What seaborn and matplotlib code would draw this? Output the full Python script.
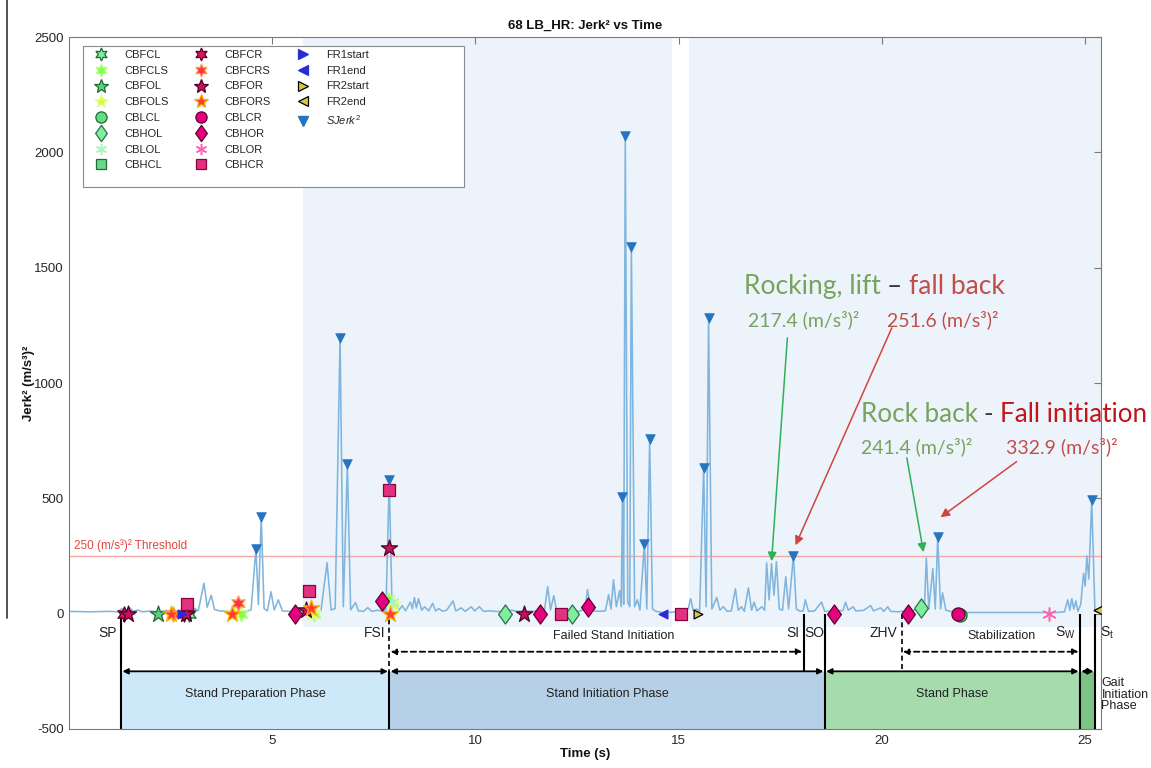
import matplotlib
matplotlib.use("Agg")
import matplotlib.pyplot as plt
from matplotlib.lines import Line2D
from matplotlib.patches import Rectangle
from matplotlib.path import Path
import seaborn as sns

# ---------------------------------------------------------------- data
# Jerk^2 signal, (m/s^3)^2, sampled at the listed times (s)
TIME = [0.00, 0.50, 1.00, 1.20, 1.30, 1.36, 1.50, 1.58, 1.70, 1.80, 2.00, 2.20, 2.40, 2.60,
        2.80, 3.00, 3.10, 3.18, 3.32, 3.40, 3.50, 3.58, 3.70, 3.90, 4.00, 4.10, 4.20, 4.35,
        4.48, 4.60, 4.66, 4.73, 4.80, 4.88, 4.97, 5.05, 5.15, 5.25, 5.40, 5.55, 5.70, 5.80,
        5.95, 6.05, 6.20, 6.35, 6.45, 6.55, 6.67, 6.75, 6.85, 6.93, 7.05, 7.12, 7.25, 7.35,
        7.45, 7.60, 7.72, 7.80, 7.88, 7.95, 8.05, 8.12, 8.20, 8.28, 8.40, 8.45, 8.50, 8.55,
        8.60, 8.68, 8.75, 8.85, 8.95, 9.02, 9.10, 9.20, 9.30, 9.45, 9.52, 9.65, 9.75, 9.90,
        9.98, 10.10, 10.20, 10.35, 10.50, 10.70, 10.90, 11.00, 11.20, 11.40, 11.60, 11.70,
        11.78, 11.85, 11.93, 12.00, 12.20, 12.40, 12.55, 12.70, 12.76, 12.82, 12.90, 13.05,
        13.20, 13.28, 13.34, 13.40, 13.47, 13.55, 13.59, 13.62, 13.65, 13.69, 13.75, 13.80,
        13.84, 13.92, 13.99, 14.05, 14.16, 14.22, 14.29, 14.36, 14.45, 14.60, 14.80, 15.00,
        15.15, 15.24, 15.30, 15.36, 15.45, 15.52, 15.62, 15.68, 15.74, 15.82, 15.94, 16.02,
        16.10, 16.20, 16.30, 16.40, 16.47, 16.55, 16.62, 16.72, 16.80, 16.86, 16.93, 17.05,
        17.12, 17.17, 17.23, 17.29, 17.35, 17.41, 17.48, 17.56, 17.64, 17.71, 17.83, 17.90,
        18.00, 18.07, 18.12, 18.20, 18.35, 18.52, 18.60, 18.80, 18.95, 19.05, 19.11, 19.18,
        19.30, 19.36, 19.55, 19.73, 19.80, 19.98, 20.05, 20.15, 20.22, 20.40, 20.60, 20.80,
        20.95, 21.05, 21.10, 21.16, 21.26, 21.32, 21.38, 21.45, 21.50, 21.58, 21.80, 22.50,
        23.50, 24.30, 24.50, 24.58, 24.63, 24.68, 24.73, 24.78, 24.83, 24.90, 24.97, 25.01,
        25.05, 25.10, 25.17, 25.25, 25.40]
JERK2 = [10, 8, 10, 8, 22, 10, 25, 10, 16, 8, 11, 8, 13, 8,
         16, 10, 22, 12, 132, 28, 80, 18, 12, 10, 16, 38, 12, 10,
         16, 282, 40, 420, 22, 12, 95, 16, 60, 12, 10, 8, 14, 10,
         20, 10, 12, 221, 16, 22, 1196, 30, 650, 16, 48, 12, 10, 26,
         10, 15, 10, 16, 580, 20, 40, 14, 35, 12, 50, 22, 70, 25,
         65, 15, 30, 12, 45, 12, 22, 10, 16, 55, 12, 25, 10, 30,
         12, 30, 10, 12, 10, 8, 15, 10, 12, 10, 12, 14,
         117, 16, 78, 12, 10, 15, 10, 20, 104, 40, 12, 10,
         12, 82, 20, 147, 30, 100, 30, 507, 40, 2071, 50, 30,
         1590, 30, 60, 15, 303, 20, 758, 20, 10, 5, 6, 8,
         10, 22, 65, 15, 20, 10, 633, 30, 1282, 20, 70, 15,
         30, 10, 12, 108, 15, 30, 10, 112, 15, 50, 12, 30,
         15, 220, 60, 217.4, 80, 225, 20, 15, 160, 20, 251.6, 20,
         10, 12, 60, 10, 12, 50, 10, 10, 12, 14, 50, 15,
         30, 12, 14, 35, 12, 25, 10, 30, 10, 8, 12, 15,
         25, 15, 241.4, 20, 195, 20, 332.9, 20, 90, 15, 5, 5,
         5, 5, 8, 60, 15, 65, 20, 55, 10, 40, 175, 120,
         250, 150, 494, 10, 5]

# detected Jerk^2 peaks
PEAK_T = [4.60, 4.73, 6.67, 6.85, 7.88, 13.62, 13.69, 13.84, 14.16, 14.29, 15.62, 15.74,
          17.83, 21.38, 25.17]
PEAK_V = [282, 420, 1196, 650, 580, 507, 2071, 1590, 303, 758, 633, 1282, 251.6, 332.9, 494]

THRESHOLD = 250

# behaviour events (time s, Jerk^2 value)
CBFCL_T, CBFCL_V = [2.95], [0]
CBFCLS_T, CBFCLS_V = [4.22, 6.02, 7.85], [0, 0, 62]
CBFOL_T, CBFOL_V = [2.20], [0]
CBFOLS_T, CBFOLS_V = [4.05, 5.98, 7.98], [8, 5, 40]
CBLCL_T, CBLCL_V = [21.92], [-5]
CBHOL_T, CBHOL_V = [10.74, 12.39, 20.96], [0, 0, 25]
CBLOL_T, CBLOL_V = [7.95], [50]
CBHCL_T, CBHCL_V = [], []
CBFCR_T, CBFCR_V = [1.35, 2.82], [0, 0]
CBFCRS_T, CBFCRS_V = [2.55, 4.15], [0, 45]
CBFOR_T, CBFOR_V = [1.45, 2.88, 5.82, 7.88, 11.20], [0, 0, 15, 286, 0]
CBFORS_T, CBFORS_V = [2.50, 4.02, 5.95, 7.90], [0, 0, 25, 0]
CBLCR_T, CBLCR_V = [21.87], [0]
CBHOR_T, CBHOR_V = [5.57, 7.70, 11.58, 12.78, 18.82, 20.64], [0, 56, 0, 28, 0, 0]
CBLOR_T, CBLOR_V = [24.11], [0]
CBHCR_T, CBHCR_V = [2.90, 5.90, 7.88, 12.10, 15.05], [43, 100, 537, 0, 0]
FR1START_T, FR1START_V = [2.78], [0]
FR1END_T, FR1END_V = [14.63], [0]
FR2START_T, FR2START_V = [15.49], [0]
FR2END_T, FR2END_V = [25.33], [15]

# task segmentation (s)
EVENT_NAMES = ["SP", "FSI", "SI", "SO", "ZHV", "SW", "St"]
EVENT_TIMES = [1.28, 7.88, 18.08, 18.60, 20.49, 24.88, 25.25]
PHASE_NAMES = ["Stand Preparation Phase", "Stand Initiation Phase", "Stand Phase",
               "Gait\nInitiation\nPhase"]
SUBPHASE_NAMES = ["Failed Stand Initiation", "Stabilization"]

# epochs with video coverage (s)
VIDEO_SPANS = [(5.76, 14.83), (15.27, 25.40)]

# annotated peaks
ANNOT_LIFT, ANNOT_FALLBACK = 217.4, 251.6
ANNOT_ROCKBACK, ANNOT_FALLINIT = 241.4, 332.9

# ---------------------------------------------------------------- style
sns.set_theme(style="white")
plt.rcParams["font.family"] = ["Liberation Sans", "DejaVu Sans"]
plt.rcParams["mathtext.fontset"] = "custom"
plt.rcParams["mathtext.rm"] = "Liberation Sans"
plt.rcParams["mathtext.it"] = "Liberation Sans:italic"
plt.rcParams["mathtext.bf"] = "Liberation Sans:bold"
plt.rcParams["axes.unicode_minus"] = False

HEX = (6, 1, 0)
AST = (6, 2, 0)
DIAM = Path([(0, 1), (0.72, 0), (0, -1), (-0.72, 0), (0, 1)],
            [Path.MOVETO, Path.LINETO, Path.LINETO, Path.LINETO, Path.CLOSEPOLY])

GREEN_EDGE = "#1f6b35"
PINK_EDGE = "#5e0030"
SERIES = [
    ("CBFCL", CBFCL_T, CBFCL_V, dict(marker=HEX, fc="#86eb9e", ec=GREEN_EDGE, s=120)),
    ("CBFCLS", CBFCLS_T, CBFCLS_V, dict(marker=HEX, fc="#86ff4c", ec="#b9ff8c", s=120)),
    ("CBFOL", CBFOL_T, CBFOL_V, dict(marker="*", fc="#5fcf7e", ec=GREEN_EDGE, s=150)),
    ("CBFOLS", CBFOLS_T, CBFOLS_V, dict(marker="*", fc="#d2ff3a", ec="#e8ff9c", s=150)),
    ("CBLCL", CBLCL_T, CBLCL_V, dict(marker="o", fc="#62dd86", ec=GREEN_EDGE, s=90)),
    ("CBHOL", CBHOL_T, CBHOL_V, dict(marker=DIAM, fc="#7eeea0", ec="#2f6f45", s=190)),
    ("CBLOL", CBLOL_T, CBLOL_V, dict(marker=AST, fc="#aef2be", ec=None, s=90)),
    ("CBHCL", CBHCL_T, CBHCL_V, dict(marker="s", fc="#66d98a", ec=GREEN_EDGE, s=75)),
    ("CBFCR", CBFCR_T, CBFCR_V, dict(marker=HEX, fc="#e0125e", ec=PINK_EDGE, s=120)),
    ("CBFCRS", CBFCRS_T, CBFCRS_V, dict(marker=HEX, fc="#ff2f55", ec="#ffa040", s=120)),
    ("CBFOR", CBFOR_T, CBFOR_V, dict(marker="*", fc="#c9115c", ec="#4d0020", s=150)),
    ("CBFORS", CBFORS_T, CBFORS_V, dict(marker="*", fc="#ff3a3a", ec="#ffb000", s=150)),
    ("CBLCR", CBLCR_T, CBLCR_V, dict(marker="o", fc="#e6007e", ec=PINK_EDGE, s=90)),
    ("CBHOR", CBHOR_T, CBHOR_V, dict(marker=DIAM, fc="#e8007e", ec=PINK_EDGE, s=190)),
    ("CBLOR", CBLOR_T, CBLOR_V, dict(marker=AST, fc="#ff66b0", ec=None, s=90)),
    ("CBHCR", CBHCR_T, CBHCR_V, dict(marker="s", fc="#e3317f", ec="#8a0040", s=75)),
    ("FR1start", FR1START_T, FR1START_V, dict(marker=">", fc="#2b2bd6", ec="#2b2bd6", s=40)),
    ("FR1end", FR1END_T, FR1END_V, dict(marker="<", fc="#2b2bd6", ec="#2b2bd6", s=40)),
    ("FR2start", FR2START_T, FR2START_V, dict(marker=">", fc="#d8c640", ec="#000000", s=40)),
    ("FR2end", FR2END_T, FR2END_V, dict(marker="<", fc="#d8c640", ec="#000000", s=40)),
]
PEAK_COLOR = "#2474bf"
LINE_COLOR = "#80b5de"

fig = plt.figure(figsize=(11.51, 7.68), dpi=100)
ax = fig.add_axes([0.0600, 0.0508, 0.8966, 0.9010])

# shaded epochs
for a, b in VIDEO_SPANS:
    ax.fill_between([a, b], -60, 2500, color="#edf3fa", lw=0, zorder=0)

# threshold
ax.axhline(THRESHOLD, color="#f4a7a7", lw=1.0, zorder=1)
ax.text(0.12, THRESHOLD + 18, "250 (m/s³)² Threshold", color="#e2453e", fontsize=8.5,
        ha="left", va="bottom")

# signal
sns.lineplot(x=TIME, y=JERK2, ax=ax, color=LINE_COLOR, lw=1.15, zorder=2,
             estimator=None, sort=False)

# peaks
sns.scatterplot(x=PEAK_T, y=PEAK_V, ax=ax, marker="v", s=48, color=PEAK_COLOR,
                edgecolor=PEAK_COLOR, linewidth=0.5, zorder=5, legend=False)

# events
for name, tt, vv, st in SERIES:
    if not tt:
        continue
    kw = dict(marker=st["marker"], s=st["s"], color=st["fc"], zorder=4, legend=False)
    if st["ec"] is not None:
        kw.update(edgecolor=st["ec"], linewidth=0.9)
    else:
        kw.update(linewidth=1.1)
    sns.scatterplot(x=tt, y=vv, ax=ax, **kw)

# ---------------------------------------------------------------- phases
ev = dict(zip(EVENT_NAMES, EVENT_TIMES))
TOP, BOT, ROW, DROW = -252, -500, -250, -165
phase_spans = [(ev["SP"], ev["FSI"], "#cde9f9"), (ev["FSI"], ev["SO"], "#b6d0e7"),
               (ev["SO"], ev["SW"], "#a6dcad"), (ev["SW"], ev["St"], "#7cc486")]
for (a, b, c), name in zip(phase_spans, PHASE_NAMES):
    ax.fill_between([a, b], BOT, TOP, color=c, lw=0, zorder=1)
    if "\n" not in name:
        ax.text((a + b) / 2, -347, name, ha="center", va="center", fontsize=9, color="#222222")
ax.text(ev["St"] + 0.16, -351, PHASE_NAMES[3], ha="left", va="center", fontsize=9,
        color="#222222", linespacing=0.95, clip_on=False)

LK = dict(color="black", lw=1.5, zorder=3, solid_capstyle="butt")
for key in ["SP", "SO", "SW", "St"]:
    ax.plot([ev[key], ev[key]], [0, BOT], **LK)
ax.plot([ev["FSI"], ev["FSI"]], [10, ROW], color="black", lw=1.2, ls=(0, (3, 2)), zorder=3)
ax.plot([ev["FSI"], ev["FSI"]], [ROW, BOT], **LK)
ax.plot([ev["SI"], ev["SI"]], [0, ROW], **LK)
ax.plot([ev["ZHV"], ev["ZHV"]], [0, ROW], color="black", lw=1.2, ls=(0, (3, 2)), zorder=3)


def double_arrow(a, b, y, dashed=False):
    ax.annotate("", xy=(b, y), xytext=(a, y),
                arrowprops=dict(arrowstyle="<|-|>", color="black", lw=1.3,
                                ls=(0, (3, 2)) if dashed else "-",
                                mutation_scale=8, shrinkA=1, shrinkB=1),
                zorder=3)


double_arrow(ev["SP"], ev["FSI"], ROW)
double_arrow(ev["FSI"], ev["SO"], ROW)
double_arrow(ev["SO"], ev["SW"], ROW)
double_arrow(ev["SW"], ev["St"], ROW)
double_arrow(ev["FSI"], ev["SI"], DROW, dashed=True)
double_arrow(ev["ZHV"], ev["SW"], DROW, dashed=True)

EK = dict(fontsize=10, va="center", color="#222222", clip_on=False)
ax.text(ev["SP"] - 0.1, -82, "SP", ha="right", **EK)
ax.text(ev["FSI"] - 0.1, -82, "FSI", ha="right", **EK)
ax.text(ev["SI"] - 0.1, -82, "SI", ha="right", **EK)
ax.text((ev["SI"] + ev["SO"]) / 2, -82, "SO", ha="center", **EK)
ax.text(ev["ZHV"] - 0.1, -82, "ZHV", ha="right", **EK)
ax.text(ev["SW"] - 0.1, -82, r"S$_\mathrm{W}$", ha="right", **EK)
ax.text(ev["St"] + 0.12, -82, r"S$_\mathrm{t}$", ha="left", **EK)
ax.text(13.4, -95, SUBPHASE_NAMES[0], ha="center", va="center", fontsize=9, color="#222222")
ax.text(22.96, -95, SUBPHASE_NAMES[1], ha="center", va="center", fontsize=9, color="#222222")

# ---------------------------------------------------------------- annotations
GREEN_T, RED_T, DARK_T = "#77a35f", "#c24e4a", "#3a3a3a"
ANNOT_FONT = ["Lato", "DejaVu Sans"]


def colored_line(x, y, pieces, size):
    prev = None
    for txt, col in pieces:
        if prev is None:
            prev = ax.text(x, y, txt, color=col, fontsize=size, family=ANNOT_FONT,
                           ha="left", va="center", clip_on=False)
        else:
            prev = ax.annotate(txt, xy=(1, 0.5), xycoords=prev, color=col, fontsize=size,
                               family=ANNOT_FONT, ha="left", va="center",
                               annotation_clip=False)


colored_line(16.60, 1417, [("Rocking, lift ", GREEN_T), ("– ", DARK_T), ("fall back", RED_T)], 19)
colored_line(16.72, 1274, [(f"{ANNOT_LIFT} (m/s³)²", GREEN_T)], 14)
colored_line(20.12, 1274, [(f"{ANNOT_FALLBACK} (m/s³)²", RED_T)], 14)
colored_line(19.48, 862, [("Rock back ", GREEN_T), ("- ", DARK_T), ("Fall initiation", "#c0151a")], 18.7)
colored_line(19.48, 724, [(f"{ANNOT_ROCKBACK} (m/s³)²", GREEN_T)], 14)
colored_line(23.05, 724, [(f"{ANNOT_FALLINIT} (m/s³)²", RED_T)], 14)

AG, AR = "#2fb05a", "#d0453f"
for (x0, y0), (x1, y1), c in [((17.68, 1196), (17.29, ANNOT_LIFT + 10), AG),
                              ((20.25, 1239), (17.88, ANNOT_FALLBACK + 45), AR),
                              ((20.62, 676), (21.03, ANNOT_ROCKBACK + 25), AG),
                              ((23.32, 659), (21.45, ANNOT_FALLINIT + 85), AR)]:
    ax.annotate("", xy=(x1, y1), xytext=(x0, y0),
                arrowprops=dict(arrowstyle="-|>", color=c, lw=1.1, mutation_scale=13,
                                shrinkA=0, shrinkB=0), zorder=6)

# ---------------------------------------------------------------- axes
ax.set_xlim(0, 25.4)
ax.set_ylim(-500, 2500)
ax.set_xticks([5, 10, 15, 20, 25])
ax.set_yticks(range(-500, 2501, 500))
ax.tick_params(direction="in", top=True, right=True, length=5, width=0.8, color="#7a7a7a",
               labelsize=9.5, labelcolor="#262626", pad=4)
for sp in ax.spines.values():
    sp.set_visible(True)
    sp.set_color("#7a7a7a")
    sp.set_linewidth(0.8)
ax.set_title("68 LB_HR: Jerk² vs Time", fontsize=9.5, fontweight="bold", pad=6, color="#111111")
ax.set_xlabel("Time (s)", fontsize=9.5, fontweight="bold", labelpad=1, color="#111111")
ax.set_ylabel("Jerk² (m/s³)²", fontsize=9.5, fontweight="bold", labelpad=-1, color="#111111")

# legend
handles, labels = [], []
for name, _, _, st in SERIES[:16]:
    mk = st["marker"]
    ms = st["s"] ** 0.5 * 0.85
    if st["ec"] is None:
        h = Line2D([], [], ls="none", marker=mk, markersize=ms, color=st["fc"], mew=1.1)
    else:
        h = Line2D([], [], ls="none", marker=mk, markersize=ms, mfc=st["fc"], mec=st["ec"], mew=0.9)
    handles.append(h)
    labels.append(name)
for name, _, _, st in SERIES[16:]:
    handles.append(Line2D([], [], ls="none", marker=st["marker"], markersize=6.5,
                          mfc=st["fc"], mec=st["ec"], mew=0.9))
    labels.append(name)
handles.append(Line2D([], [], ls="none", marker="v", markersize=6.5, color=PEAK_COLOR))
labels.append(r"$SJerk^2$")
for _ in range(3):
    handles.append(Line2D([], [], ls="none"))
    labels.append("")

ax.add_patch(Rectangle((0.01357, 0.7832), 0.3692, 0.2038, transform=ax.transAxes,
                       facecolor="white", edgecolor="#8a8a8a", lw=0.8, zorder=7))
leg = ax.legend(handles, labels, ncol=3, loc="upper left", bbox_to_anchor=(0.0136, 0.987),
                borderaxespad=0, frameon=False, fontsize=8, handlelength=2.5,
                handletextpad=0.9, columnspacing=1.6, labelspacing=0.52, borderpad=0.35)
leg.set_zorder(8)

# scan edge on the left of the page
fig.add_artist(Line2D([0.0065, 0.0065], [1.0, 0.195], transform=fig.transFigure,
                      color="#333333", lw=1.2))

fig.savefig("out.png", dpi=100)
